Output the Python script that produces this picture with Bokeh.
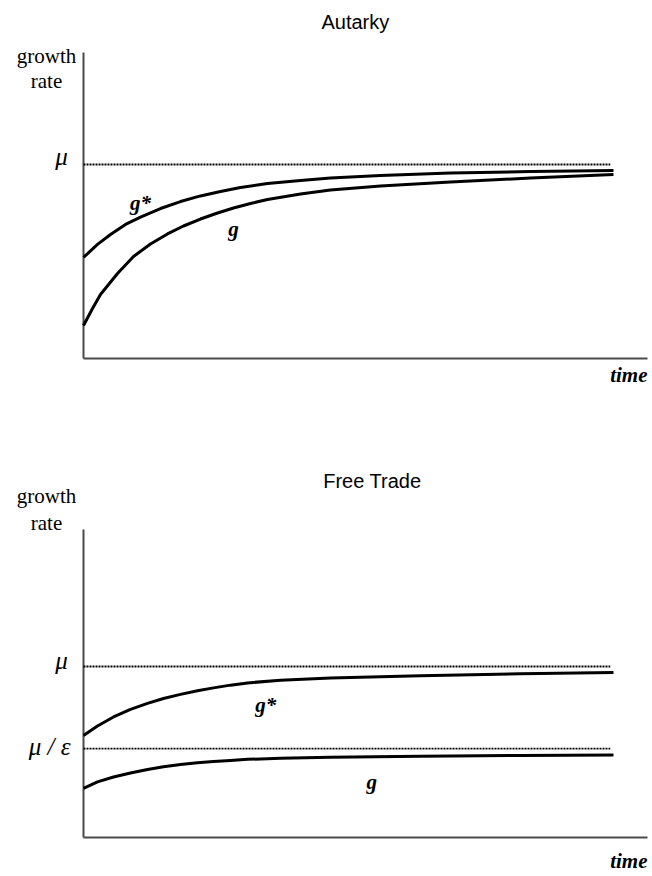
from bokeh.plotting import figure
from bokeh.layouts import column
from bokeh.models import Range1d, Label
from bokeh.embed import file_html
from bokeh.resources import INLINE

# ---------------- data ----------------
# time is scaled 0..1 along the axis, growth rate scaled so that mu = 1
# Autarky panel
aut_t_gstar = [0.0, 0.0248, 0.0479, 0.0745, 0.1011, 0.1365, 0.1720, 0.2074, 0.2429, 0.2784,
               0.3262, 0.3848, 0.4379, 0.5266, 0.6507, 0.7926, 0.9397]
aut_gstar   = [0.521, 0.588, 0.639, 0.691, 0.729, 0.773, 0.809, 0.838, 0.861, 0.881,
               0.902, 0.918, 0.930, 0.943, 0.956, 0.964, 0.969]
aut_t_g     = [0.0, 0.016, 0.0301, 0.0603, 0.0887, 0.1188, 0.1489, 0.1773, 0.2074, 0.2376,
               0.2660, 0.2961, 0.3262, 0.3848, 0.4379, 0.5266, 0.6507, 0.7926, 0.9397]
aut_g       = [0.170, 0.258, 0.330, 0.438, 0.526, 0.590, 0.642, 0.683, 0.719, 0.750,
               0.776, 0.799, 0.820, 0.848, 0.869, 0.889, 0.910, 0.930, 0.948]
aut_mu = 1.0
aut_axis_top = 306 / 194

# Free-trade panel
ft_t       = [0.0, 0.0248, 0.0532, 0.0833, 0.1135, 0.1418, 0.1720, 0.2021, 0.2305, 0.2606,
              0.2908, 0.3493, 0.4379, 0.5975, 0.7748, 0.9397]
ft_gstar   = [0.596, 0.652, 0.705, 0.749, 0.784, 0.813, 0.837, 0.858, 0.875, 0.891,
              0.904, 0.920, 0.933, 0.946, 0.958, 0.965]
ft_g       = [0.287, 0.325, 0.354, 0.377, 0.398, 0.414, 0.427, 0.437, 0.445, 0.451,
              0.457, 0.463, 0.469, 0.475, 0.480, 0.482]
ft_mu = 1.0
ft_mu_eps = 0.520
ft_axis_top = 308 / 171

ref_line_t = [0.0, 0.934]
time_axis = [0.0, 1.0]

SERIF = "Liberation Serif"
SANS = "Liberation Sans"
AXIS_COLOR = "#4a4a4a"

W = 652
X0_PX, PX_PER_T = 83, 564


def base_figure(height, y0_px, px_per_unit, axis_top):
    xr = Range1d(-X0_PX / PX_PER_T, (W - X0_PX) / PX_PER_T)
    yr = Range1d(-(height - y0_px) / px_per_unit, y0_px / px_per_unit)
    p = figure(width=W, height=height, x_range=xr, y_range=yr,
               x_axis_type=None, y_axis_type=None, toolbar_location=None,
               output_backend="svg", min_border=0)
    p.outline_line_color = None
    p.background_fill_color = "white"
    p.border_fill_color = "white"
    # axes
    p.line([0, 0], [0, axis_top], line_color=AXIS_COLOR, line_width=2)
    p.line(time_axis, [0, 0], line_color=AXIS_COLOR, line_width=2)
    return p


def lab(p, x, y, text, font=SERIF, size="21px", style="normal", align="center"):
    p.add_layout(Label(x=x, y=y, text=text, text_font=font, text_font_size=size,
                       text_font_style=style, text_align=align, text_baseline="alphabetic",
                       text_color="black"))


DOT = dict(line_color="black", line_width=1.8, line_dash="2 1")
CURVE = dict(line_color="black", line_width=3, line_join="round")

# ---------------- Autarky ----------------
p1 = base_figure(420, 358, 194, aut_axis_top)
p1.line(ref_line_t, [aut_mu, aut_mu], **DOT)
p1.line(aut_t_gstar, aut_gstar, **CURVE)
p1.line(aut_t_g, aut_g, **CURVE)
lab(p1, 0.482, 1.737, "Autarky", font=SANS, size="20px")
lab(p1, -0.0656, 1.557, "growth")
lab(p1, -0.0656, 1.428, "rate")
lab(p1, -0.028, 1.041, "μ", size="25px", style="italic", align="right")
lab(p1, 0.101, 0.800, "g*", size="21px", style="bold italic")
lab(p1, 0.266, 0.665, "g", size="21px", style="bold italic")
lab(p1, 1.0, -0.087, "time", size="21px", style="bold italic", align="right")

# ---------------- Free Trade ----------------
p2 = base_figure(456, 417, 171, ft_axis_top)
p2.line(ref_line_t, [ft_mu, ft_mu], **DOT)
p2.line(ref_line_t, [ft_mu_eps, ft_mu_eps], **DOT)
p2.line(ft_t, ft_gstar, **CURVE)
p2.line(ft_t, ft_g, **CURVE)
lab(p2, 0.512, 2.082, "Free Trade", font=SANS, size="20px")
lab(p2, -0.0656, 2.000, "growth")
lab(p2, -0.0656, 1.842, "rate")
lab(p2, -0.028, 1.035, "μ", size="25px", style="italic", align="right")
lab(p2, -0.023, 0.533, "μ / ε", size="25px", style="italic", align="right")
lab(p2, 0.323, 0.772, "g*", size="21px", style="bold italic")
lab(p2, 0.511, 0.322, "g", size="21px", style="bold italic")
lab(p2, 1.0, -0.135, "time", size="21px", style="bold italic", align="right")

layout = column(p1, p2, spacing=0)
open("out.html", "w").write(file_html(layout, INLINE))
